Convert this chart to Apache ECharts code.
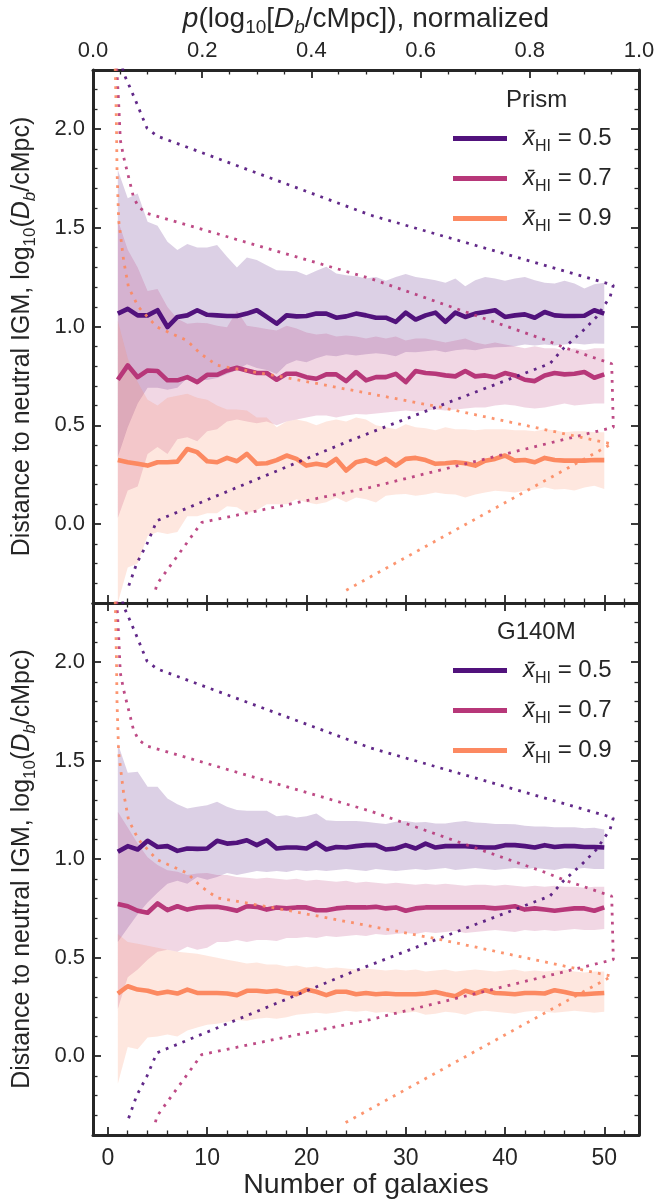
<!DOCTYPE html>
<html>
<head>
<meta charset="utf-8">
<script src="https://cdn.jsdelivr.net/npm/echarts@6/dist/echarts.min.js"></script>
<style>
  html, body { margin: 0; padding: 0; background: #ffffff; }
  #chart { width: 658px; height: 1202px; }
</style>
</head>
<body>
<div id="chart"></div>
<script>
// Number of galaxies in the sample
const galaxies = [1,2,3,4,5,6,7,8,9,10,11,12,13,14,15,16,17,18,19,20,21,22,23,24,25,
                  26,27,28,29,30,31,32,33,34,35,36,37,38,39,40,41,42,43,44,45,46,47,48,49,50];

// Prism: median and 16-84 percentile band of the inferred distance
const prismMed05 = [1.066,1.090,1.057,1.057,1.083,0.998,1.049,1.057,1.083,1.060,1.057,1.054,1.054,1.066,1.083,1.049,1.015,1.057,1.052,1.054,1.066,1.066,1.045,1.052,1.066,
                    1.057,1.045,1.045,1.024,1.071,1.036,1.057,1.071,1.024,1.071,1.049,1.066,1.074,1.083,1.049,1.057,1.062,1.045,1.074,1.057,1.054,1.054,1.055,1.083,1.066];
const prismHi05  = [1.793,1.650,1.675,1.531,1.511,1.430,1.388,1.418,1.401,1.401,1.413,1.354,1.300,1.350,1.337,1.311,1.286,1.283,1.281,1.260,1.283,1.303,1.269,1.260,1.255,
                    1.244,1.252,1.232,1.252,1.266,1.252,1.244,1.235,1.222,1.244,1.205,1.235,1.252,1.244,1.232,1.244,1.252,1.235,1.222,1.218,1.232,1.218,1.193,1.215,1.222];
const prismLo05  = [0.340,0.490,0.610,0.690,0.690,0.680,0.690,0.740,0.730,0.730,0.740,0.760,0.780,0.810,0.790,0.780,0.760,0.810,0.830,0.820,0.840,0.855,0.850,0.860,0.854,
                    0.860,0.865,0.860,0.850,0.871,0.870,0.875,0.880,0.870,0.880,0.885,0.880,0.890,0.895,0.897,0.900,0.910,0.905,0.910,0.905,0.910,0.915,0.910,0.915,0.913];

const prismMed07 = [0.731,0.804,0.744,0.778,0.775,0.728,0.728,0.744,0.719,0.756,0.756,0.778,0.792,0.778,0.765,0.765,0.731,0.761,0.761,0.744,0.736,0.758,0.758,0.724,0.770,
                    0.728,0.744,0.744,0.761,0.719,0.775,0.765,0.761,0.753,0.748,0.775,0.748,0.753,0.744,0.765,0.753,0.731,0.724,0.753,0.765,0.758,0.761,0.770,0.741,0.758];
const prismHi07  = [1.540,1.390,1.300,1.180,1.190,1.100,1.040,1.014,1.020,1.017,1.005,0.997,1.080,1.005,0.997,0.988,0.980,1.005,0.990,0.970,0.960,0.965,0.950,0.955,0.950,
                    0.940,0.950,0.940,0.950,0.930,0.940,0.940,0.930,0.920,0.930,0.940,0.920,0.910,0.920,0.910,0.900,0.890,0.900,0.890,0.890,0.880,0.890,0.880,0.890,0.890];
const prismLo07  = [0.030,0.170,0.190,0.355,0.390,0.355,0.430,0.440,0.420,0.470,0.480,0.520,0.530,0.520,0.510,0.520,0.500,0.520,0.530,0.540,0.550,0.550,0.540,0.550,0.558,
                    0.555,0.560,0.565,0.570,0.575,0.570,0.575,0.580,0.575,0.580,0.585,0.590,0.590,0.600,0.605,0.600,0.590,0.585,0.590,0.600,0.610,0.600,0.605,0.610,0.610];

const prismMed09 = [0.324,0.313,0.305,0.296,0.313,0.313,0.316,0.380,0.364,0.318,0.313,0.335,0.318,0.355,0.305,0.308,0.324,0.347,0.330,0.296,0.305,0.296,0.330,0.271,0.313,
                    0.324,0.305,0.330,0.296,0.330,0.335,0.324,0.305,0.308,0.313,0.308,0.296,0.321,0.330,0.347,0.321,0.324,0.313,0.335,0.324,0.321,0.321,0.321,0.324,0.324];
const prismHi09  = [1.030,0.840,0.720,0.630,0.600,0.640,0.650,0.660,0.640,0.630,0.600,0.580,0.580,0.575,0.540,0.540,0.490,0.520,0.530,0.520,0.500,0.520,0.530,0.520,0.540,
                    0.530,0.500,0.490,0.480,0.505,0.490,0.485,0.475,0.490,0.480,0.480,0.475,0.480,0.480,0.480,0.475,0.475,0.470,0.480,0.475,0.465,0.470,0.470,0.465,0.465];
const prismLo09  = [-0.400,-0.220,-0.200,-0.060,-0.040,-0.050,-0.040,0.040,0.040,0.055,0.055,0.090,0.085,0.055,0.070,0.100,0.100,0.100,0.125,0.110,0.100,0.110,0.135,0.110,0.135,
                    0.126,0.109,0.143,0.150,0.152,0.143,0.150,0.160,0.152,0.150,0.135,0.150,0.160,0.169,0.165,0.160,0.169,0.175,0.186,0.175,0.177,0.170,0.185,0.194,0.177];

// G140M: median and 16-84 percentile band of the inferred distance
const g140Med05 = [1.037,1.066,1.049,1.093,1.062,1.066,1.042,1.054,1.052,1.054,1.093,1.079,1.083,1.096,1.071,1.096,1.054,1.059,1.059,1.054,1.083,1.049,1.062,1.059,1.066,
                   1.071,1.071,1.049,1.054,1.071,1.054,1.079,1.059,1.066,1.066,1.066,1.062,1.059,1.059,1.071,1.071,1.066,1.059,1.071,1.062,1.066,1.066,1.062,1.062,1.059];
const g140Hi05  = [1.587,1.438,1.443,1.367,1.367,1.308,1.279,1.257,1.266,1.274,1.291,1.266,1.249,1.245,1.245,1.245,1.218,1.223,1.211,1.218,1.232,1.198,1.194,1.194,1.194,
                   1.190,1.183,1.179,1.190,1.193,1.186,1.188,1.181,1.181,1.188,1.193,1.186,1.183,1.179,1.179,1.177,1.169,1.166,1.166,1.162,1.162,1.162,1.157,1.159,1.151];
const g140Lo05  = [0.580,0.650,0.720,0.780,0.830,0.875,0.890,0.875,0.910,0.895,0.910,0.930,0.920,0.930,0.940,0.935,0.940,0.935,0.945,0.940,0.945,0.940,0.945,0.950,0.945,
                   0.940,0.950,0.945,0.940,0.945,0.950,0.945,0.950,0.955,0.945,0.950,0.955,0.950,0.945,0.950,0.955,0.950,0.955,0.950,0.945,0.955,0.950,0.955,0.950,0.950];

const g140Med07 = [0.772,0.761,0.738,0.728,0.775,0.741,0.761,0.744,0.755,0.758,0.758,0.750,0.738,0.761,0.758,0.744,0.755,0.750,0.755,0.755,0.741,0.741,0.750,0.755,0.755,
                   0.755,0.758,0.750,0.755,0.738,0.750,0.755,0.755,0.755,0.755,0.755,0.755,0.755,0.750,0.755,0.761,0.744,0.750,0.744,0.738,0.744,0.750,0.750,0.738,0.755];
const g140Hi07  = [1.240,1.160,1.080,1.010,0.970,0.944,0.936,0.919,0.927,0.930,0.920,0.920,0.910,0.905,0.900,0.905,0.900,0.895,0.900,0.890,0.895,0.890,0.885,0.890,0.880,
                   0.885,0.880,0.875,0.880,0.875,0.870,0.875,0.870,0.875,0.870,0.865,0.870,0.870,0.865,0.870,0.865,0.860,0.865,0.860,0.865,0.860,0.860,0.855,0.860,0.860];
const g140Lo07  = [0.240,0.400,0.440,0.490,0.530,0.540,0.530,0.555,0.540,0.550,0.580,0.580,0.590,0.580,0.590,0.590,0.585,0.600,0.600,0.605,0.600,0.610,0.605,0.610,0.615,
                   0.610,0.620,0.615,0.620,0.625,0.620,0.630,0.625,0.630,0.635,0.625,0.630,0.635,0.640,0.635,0.630,0.640,0.635,0.640,0.635,0.640,0.645,0.640,0.640,0.645];

const g140Med09 = [0.318,0.355,0.338,0.332,0.318,0.327,0.318,0.338,0.321,0.321,0.321,0.318,0.310,0.332,0.332,0.327,0.332,0.321,0.315,0.338,0.327,0.310,0.327,0.327,0.314,
                   0.321,0.314,0.318,0.314,0.314,0.314,0.318,0.326,0.314,0.304,0.332,0.318,0.335,0.321,0.318,0.314,0.321,0.321,0.318,0.335,0.326,0.314,0.314,0.318,0.321];
const g140Hi09  = [0.620,0.580,0.570,0.560,0.550,0.540,0.530,0.525,0.520,0.510,0.500,0.490,0.480,0.470,0.475,0.465,0.465,0.455,0.460,0.450,0.455,0.445,0.450,0.445,0.440,
                   0.445,0.440,0.435,0.440,0.435,0.440,0.430,0.435,0.440,0.430,0.435,0.440,0.435,0.430,0.435,0.440,0.430,0.435,0.430,0.435,0.440,0.430,0.425,0.430,0.430];
const g140Lo09  = [-0.140,0.047,0.035,0.095,0.100,0.110,0.100,0.130,0.145,0.160,0.165,0.173,0.184,0.180,0.190,0.195,0.190,0.198,0.210,0.215,0.220,0.215,0.222,0.230,0.225,
                   0.230,0.220,0.225,0.215,0.220,0.225,0.210,0.215,0.225,0.220,0.210,0.225,0.230,0.225,0.220,0.215,0.225,0.230,0.225,0.220,0.225,0.230,0.225,0.220,0.225];

// Normalised probability of log10(D_b) for each neutral fraction (top axis vs. left axis)
const distP05 = [0.048,0.056,0.067,0.080,0.090,0.099,0.117,0.508,0.953,0.947,0.922,0.898,0.861,0.837,0.636,0.471,0.117,0.099,0.080,0.062];
const distD05 = [2.400,2.284,2.216,2.132,2.064,2.005,1.966,1.565,1.210,1.150,1.049,0.981,0.888,0.813,0.600,0.423,0.017,-0.100,-0.200,-0.340];
const distP07 = [0.042,0.044,0.047,0.050,0.056,0.062,0.068,0.074,0.083,0.099,0.508,0.831,0.861,0.950,0.953,0.508,0.199,0.117,0.114];
const distD07 = [2.400,2.284,2.132,1.946,1.861,1.793,1.726,1.658,1.607,1.574,1.244,0.930,0.896,0.812,0.490,0.186,0.008,-0.305,-0.339];
const distP09 = [0.039,0.041,0.043,0.044,0.047,0.056,0.065,0.083,0.117,0.172,0.197,0.227,0.349,0.508,0.636,0.950,0.462];
const distD09 = [2.400,2.284,2.013,1.793,1.540,1.337,1.200,1.100,0.998,0.930,0.863,0.804,0.744,0.660,0.592,0.406,-0.338];

// Tick positions
const xMajor = [0, 10, 20, 30, 40, 50];
const xMinor = [2, 4, 6, 8, 12, 14, 16, 18, 22, 24, 26, 28, 32, 34, 36, 38, 42, 44, 46, 48, 52];
const yMajor = [0, 0.5, 1.0, 1.5, 2.0];
const yMinor = [-0.3, -0.2, -0.1, 0.1, 0.2, 0.3, 0.4, 0.6, 0.7, 0.8, 0.9, 1.1, 1.2, 1.3, 1.4, 1.6, 1.7, 1.8, 1.9, 2.1, 2.2];

const fractions = ['0.5', '0.7', '0.9'];
const panelTitles = ['Prism', 'G140M'];

const FONT = 'Liberation Sans';
const INK = '#262626';
const COLORS = ['#51127c', '#b73779', '#fc8961'];
const X_MIN = -1.5, X_MAX = 53.5, Y_MIN = -0.4, Y_MAX = 2.3;

function pairs(xs, ys) { return xs.map((x, i) => [x, ys[i]]); }

const frameLine = { show: true, onZero: false, lineStyle: { color: INK, width: 3 } };
const hiddenLine = { show: false, onZero: false };

function tickAxis(grid, position, min, max, values, length, withLine, extra) {
  return Object.assign({
    type: 'value', gridIndex: grid, position: position, min: min, max: max,
    axisLine: withLine ? frameLine : hiddenLine,
    axisTick: { show: true, inside: true, length: length, customValues: values,
                lineStyle: { color: INK, width: length > 6 ? 1.8 : 1.3 } },
    axisLabel: { show: false },
    splitLine: { show: false }
  }, extra || {});
}

const subRich = {
  t:  { fontFamily: FONT, fontSize: 25, lineHeight: 31, color: INK },
  i:  { fontFamily: FONT, fontSize: 25, lineHeight: 31, fontStyle: 'italic', color: INK },
  s:  { fontFamily: FONT, fontSize: 17, lineHeight: 17, padding: [16, 0, 0, 0], color: INK },
  si: { fontFamily: FONT, fontSize: 17, lineHeight: 17, padding: [16, 0, 0, 0], fontStyle: 'italic', color: INK }
};
const topRich = {
  t:  { fontFamily: FONT, fontSize: 28, lineHeight: 34, color: INK },
  i:  { fontFamily: FONT, fontSize: 28, lineHeight: 34, fontStyle: 'italic', color: INK },
  s:  { fontFamily: FONT, fontSize: 19, lineHeight: 19, padding: [17, 0, 0, 0], color: INK },
  si: { fontFamily: FONT, fontSize: 19, lineHeight: 19, padding: [17, 0, 0, 0], fontStyle: 'italic', color: INK }
};

const yName = '{t|Distance to neutral IGM, log}{s|10}{t|(}{i|D}{si|b}{t|/cMpc)}';
const pName = '{i|p}{t|(log}{s|10}{t|[}{i|D}{si|b}{t|/cMpc]), normalized}';

function yAxesFor(grid) {
  return [
    tickAxis(grid, 'left', Y_MIN, Y_MAX, yMajor, 8, true, {
      axisLabel: { show: true, customValues: yMajor, fontFamily: FONT, fontSize: 22, color: INK, margin: 8,
                   formatter: v => Number(v).toFixed(1) },
      name: yName, nameLocation: 'middle', nameGap: 55, nameRotate: 90,
      nameTextStyle: { rich: subRich }
    }),
    tickAxis(grid, 'left', Y_MIN, Y_MAX, yMinor, 4.5, false),
    tickAxis(grid, 'right', Y_MIN, Y_MAX, yMajor, 8, true),
    tickAxis(grid, 'right', Y_MIN, Y_MAX, yMinor, 4.5, false)
  ];
}

const xAxes = [
  // top panel: galaxy-count ticks on the lower edge
  tickAxis(0, 'bottom', X_MIN, X_MAX, xMajor, 8, true),
  tickAxis(0, 'bottom', X_MIN, X_MAX, xMinor, 4.5, false),
  // top panel: probability axis on the upper edge
  {
    type: 'value', gridIndex: 0, position: 'top', min: 0, max: 1, interval: 0.2,
    axisLine: frameLine,
    axisTick: { show: true, inside: true, length: 8, lineStyle: { color: INK, width: 1.8 } },
    minorTick: { show: true, splitNumber: 4, length: 4.5, lineStyle: { color: INK, width: 1.3 } },
    axisLabel: { fontFamily: FONT, fontSize: 22, color: INK, margin: 8, formatter: v => Number(v).toFixed(1) },
    splitLine: { show: false }, minorSplitLine: { show: false },
    name: pName, nameLocation: 'middle', nameGap: 34,
    nameTextStyle: { rich: topRich }
  },
  // bottom panel: labelled galaxy-count axis
  tickAxis(1, 'bottom', X_MIN, X_MAX, xMajor, 8, true, {
    axisLabel: { show: true, customValues: xMajor, fontFamily: FONT, fontSize: 23, color: INK, margin: 12,
                 formatter: v => String(v) },
    name: 'Number of galaxies', nameLocation: 'middle', nameGap: 36,
    nameTextStyle: { fontFamily: FONT, fontSize: 28.5, color: INK }
  }),
  tickAxis(1, 'bottom', X_MIN, X_MAX, xMinor, 4.5, false),
  tickAxis(1, 'top', X_MIN, X_MAX, xMajor, 8, true),
  tickAxis(1, 'top', X_MIN, X_MAX, xMinor, 4.5, false),
  // bottom panel: probability scale for the distributions (not drawn)
  { type: 'value', gridIndex: 1, position: 'top', min: 0, max: 1, show: false }
];

const yAxes = yAxesFor(0).concat(yAxesFor(1));

function bandSeries(xi, yi, lo, hi, color) {
  return {
    type: 'custom', xAxisIndex: xi, yAxisIndex: yi, z: 1, silent: true,
    data: galaxies.map((g, i) => [g, lo[i], hi[i]]),
    encode: { x: 0, y: [1, 2] },
    renderItem: function (params, api) {
      if (params.dataIndex !== 0) return null;
      const upper = [], lower = [];
      for (let i = 0; i < galaxies.length; i++) {
        upper.push(api.coord([galaxies[i], hi[i]]));
        lower.push(api.coord([galaxies[i], lo[i]]));
      }
      const cs = params.coordSys;
      return {
        type: 'polygon',
        shape: { points: upper.concat(lower.reverse()) },
        style: { fill: color, opacity: 0.2 },
        clipPath: { type: 'rect', shape: { x: cs.x, y: cs.y, width: cs.width, height: cs.height } }
      };
    }
  };
}

function medianSeries(k, xi, yi, values) {
  return {
    name: 'xHI = ' + fractions[k], type: 'line', xAxisIndex: xi, yAxisIndex: yi,
    data: pairs(galaxies, values), color: COLORS[k], symbol: 'none', z: 3, silent: true,
    lineStyle: { width: 4.6, color: COLORS[k], join: 'round' }
  };
}

function distSeries(k, xi, yi, ps, ds) {
  return {
    type: 'line', xAxisIndex: xi, yAxisIndex: yi, data: pairs(ps, ds),
    symbol: 'none', z: 4, silent: true,
    lineStyle: { width: 2.8, color: COLORS[k], opacity: 0.9, type: [2.8, 6.2], cap: 'butt' }
  };
}

const panels = [
  { xi: 0, pxi: 2, yi: 0, med: [prismMed05, prismMed07, prismMed09], lo: [prismLo05, prismLo07, prismLo09], hi: [prismHi05, prismHi07, prismHi09] },
  { xi: 3, pxi: 7, yi: 4, med: [g140Med05, g140Med07, g140Med09], lo: [g140Lo05, g140Lo07, g140Lo09], hi: [g140Hi05, g140Hi07, g140Hi09] }
];
const distP = [distP05, distP07, distP09];
const distD = [distD05, distD07, distD09];

const series = [];
panels.forEach(p => {
  for (let k = 0; k < 3; k++) series.push(bandSeries(p.xi, p.yi, p.lo[k], p.hi[k], COLORS[k]));
  for (let k = 0; k < 3; k++) series.push(medianSeries(k, p.xi, p.yi, p.med[k]));
  for (let k = 0; k < 3; k++) series.push(distSeries(k, p.pxi, p.yi, distP[k], distD[k]));
});

const legendNames = fractions.map(f => 'xHI = ' + f);
function legendFor(top) {
  return {
    data: legendNames, orient: 'vertical', left: 453, top: top, padding: 0,
    icon: 'rect', itemWidth: 54, itemHeight: 5, itemGap: 7, selectedMode: false,
    formatter: name => '{x|x\u0304}{s|HI}{v| = ' + name.split('= ')[1] + '}',
    textStyle: {
      color: INK,
      rich: {
        x: { fontFamily: FONT, fontSize: 24, lineHeight: 30, fontStyle: 'italic', color: INK, padding: [0, 0, 0, 11] },
        s: { fontFamily: FONT, fontSize: 16, lineHeight: 16, padding: [17, 0, 0, 0], color: INK },
        v: { fontFamily: FONT, fontSize: 24, lineHeight: 30, color: INK }
      }
    }
  };
}

const option = {
  animation: false,
  textStyle: { fontFamily: FONT },
  grid: [
    { left: 93, top: 70, width: 546, height: 533, containLabel: false, outerBoundsMode: 'none' },
    { left: 93, top: 603, width: 546, height: 532, containLabel: false, outerBoundsMode: 'none' }
  ],
  title: [
    { text: panelTitles[0], left: 506, top: 88, padding: 0, textStyle: { fontFamily: FONT, fontSize: 24, fontWeight: 'normal', color: INK } },
    { text: panelTitles[1], left: 497, top: 620, padding: 0, textStyle: { fontFamily: FONT, fontSize: 24, fontWeight: 'normal', color: INK } }
  ],
  legend: [legendFor(122), legendFor(654)],
  xAxis: xAxes,
  yAxis: yAxes,
  series: series
};

const chart = echarts.init(document.getElementById('chart'), null, { renderer: 'canvas' });
chart.setOption(option);
</script>
</body>
</html>
